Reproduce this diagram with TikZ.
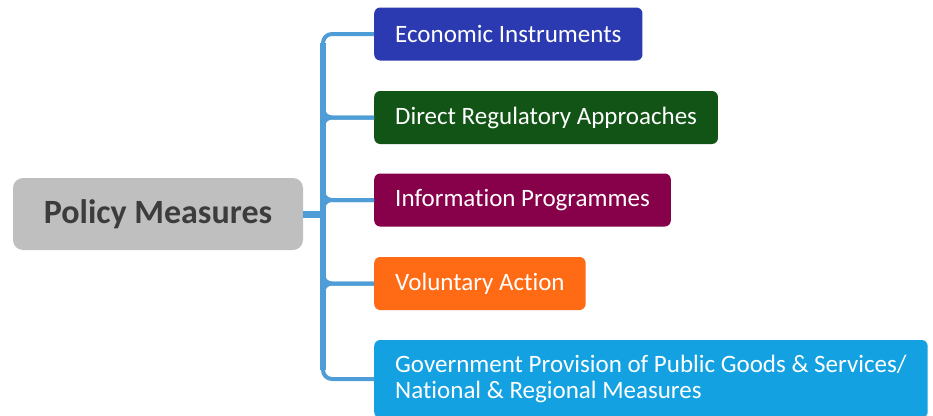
\documentclass[tikz,border=0pt]{standalone}
\usepackage{fontspec}
\setmainfont{Carlito}[Ligatures={NoCommon,NoContextual}, Contextuals=NoAlternate]
\usetikzlibrary{calc}
\definecolor{rootgray}{HTML}{BFBFBF}
\definecolor{roottext}{HTML}{3C3C3C}
\definecolor{linkblue}{HTML}{4F9DD6}
\definecolor{econblue}{HTML}{2B3AB1}
\definecolor{regreen}{HTML}{115415}
\definecolor{infored}{HTML}{87004A}
\definecolor{volorange}{HTML}{FF6A14}
\definecolor{govblue}{HTML}{13A1E1}

\begin{document}
\begin{tikzpicture}[x=1pt, y=-1pt,
    root/.style={fill=rootgray, rounded corners=10pt, minimum width=290pt, minimum height=72pt,
        text=roottext, font=\fontsize{34}{40}\selectfont\bfseries},
    measure/.style={rounded corners=6pt, inner xsep=21pt, minimum height=53pt, anchor=west,
        text=white, font=\fontsize{25}{26}\selectfont},
    link/.style={draw=linkblue, line width=4pt, rounded corners=9pt}]
    \useasboundingbox (0,0) rectangle (933,415);

    \node[root] at (158, 214) (policy) {Policy Measures};

    \node[measure, fill=econblue] at (374, 34)  (econ)   {Economic Instruments};
    \node[measure, fill=regreen] at (374, 117.5) (direct) {Direct Regulatory Approaches};
    \node[measure, fill=infored] at (374, 200)  (info)   {Information Programmes};
    \node[measure, fill=volorange] at (374, 283.5) (vol) {Voluntary Action};
    \node[measure, fill=govblue, minimum height=78pt, align=left] at (374, 379) (gov)
        {Government Provision of Public Goods \& Services/\\National \& Regional Measures};

    \coordinate (hub) at (323, 214);
    \coordinate (top) at ($(hub |- econ.west)+(0,9)$);
    \coordinate (bot) at ($(hub |- gov.west)+(0,-9)$);

    \draw [link] (bot) |- (econ.west);\draw [link] (top) |- (gov.west);
    \foreach \b in {direct, info, vol} {
        \draw [link] (top) |- (\b.west);\draw [link] (bot) |- (\b.west);
    }
    \draw [link, line width=6.5pt] (top) -- (bot);
    \draw [link, line width=7pt] (policy.east) -- (hub);
\end{tikzpicture}
\end{document}
